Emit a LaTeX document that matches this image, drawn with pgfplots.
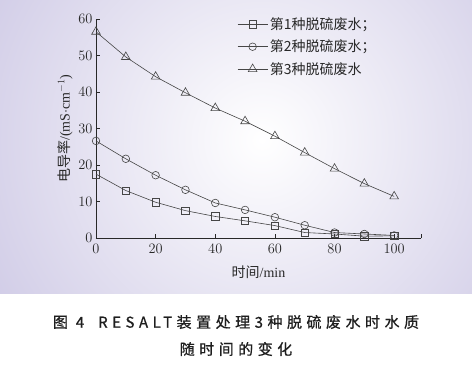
\documentclass[border=0pt]{standalone}
\usepackage{fontspec}
\setmainfont{Liberation Serif}
\newfontfamily\cjk{Noto Sans CJK SC}
\newfontfamily\capfont[LetterSpace=30, FakeBold=0.8]{Noto Sans CJK SC}
\usepackage{pgfplots}
\pgfplotsset{compat=1.18}
\definecolor{bgc}{RGB}{196,190,224}
\definecolor{ln}{RGB}{70,70,70}
\definecolor{ax}{RGB}{40,40,40}
\begin{document}
\begin{tikzpicture}[x=1pt,y=1pt]
\path[use as bounding box] (0,0) rectangle (472,365);
\fill[white] (0,0) rectangle (472,365);
\begin{scope}
\clip (0,72) rectangle (472,365);
\fill[bgc] (0,72) rectangle (472,365);
\shade[inner color=white,outer color=bgc] (262,225) circle (400);
\end{scope}
\begin{axis}[
  at={(96pt,127pt)}, anchor=south west,
  scale only axis, width=325pt, height=219pt,
  xmin=0, xmax=109, ymin=0, ymax=60,
  axis lines*=left,
  axis line style={ax, line width=0.8pt},
  xtick={0,20,...,100}, ytick={0,10,...,60},
  extra x ticks={109}, extra x tick labels={},
  tick align=inside, major tick length=4pt,
  tick style={ax, line width=0.8pt},
  ticklabel style={font=\fontsize{15}{15}\selectfont, text=ax},
  xticklabel style={yshift=-3pt},
  xlabel={{\cjk 时间}/min},
  ylabel={{\cjk 电导率}/(mS$\cdot$cm$^{-1}$)},
  label style={font=\fontsize{14}{14}\selectfont, text=ax},
  xlabel style={at={(axis description cs:0.5,-0.155)}, anchor=center},
  ylabel style={at={(axis description cs:-0.095,0.5)}, anchor=center},
  legend style={at={(axis description cs:0.425,1.025)}, anchor=north west,
    draw=none, fill=none, font=\cjk\fontsize{14}{14}\selectfont, text=ax,
    row sep=5pt, cells={anchor=west}},
  legend image code/.code={\draw[#1, mark repeat=2, mark phase=2] plot coordinates {(0pt,0pt) (15pt,0pt) (30pt,0pt)};},
  every axis plot/.append style={ln, line width=0.6pt, mark options={solid, fill=none, line width=0.6pt}},
]
\addplot[mark=square, mark size=3.7] coordinates {
(0,17.5) (10,13.0) (20,9.8) (30,7.5) (40,5.9) (50,4.7) (60,3.4) (70,1.5) (80,1.1) (90,0.5) (100,0.6)};
\addlegendentry{第1种脱硫废水；}
\addplot[mark=o, mark size=3.8] coordinates {
(0,26.6) (10,21.7) (20,17.2) (30,13.2) (40,9.6) (50,7.7) (60,5.7) (70,3.5) (80,1.5) (90,1.1) (100,0.7)};
\addlegendentry{第2种脱硫废水；}
\addplot[mark=triangle, mark size=5] coordinates {
(0,56.5) (10,49.6) (20,44.2) (30,39.8) (40,35.6) (50,32.0) (60,27.9) (70,23.4) (80,19.0) (90,14.9) (100,11.4)};
\addlegendentry{第3种脱硫废水}
\end{axis}
\node[font=\capfont\fontsize{15}{15}\selectfont, text={rgb,255:red,30;green,30;blue,30}] at (236,43) {图 4\hspace{14pt}RESALT装置处理3种脱硫废水时水质};
\node[font=\capfont\fontsize{15}{15}\selectfont, text={rgb,255:red,30;green,30;blue,30}] at (236,16) {随时间的变化};
\end{tikzpicture}
\end{document}
